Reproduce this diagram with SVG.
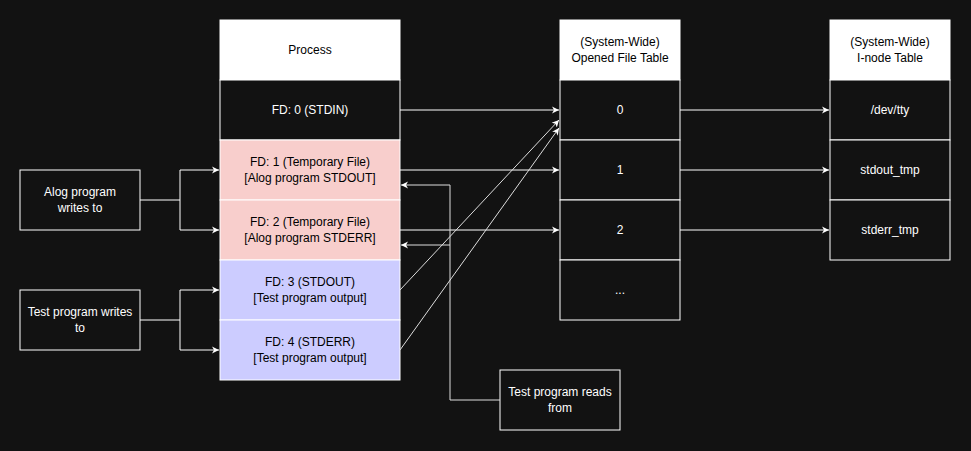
<svg xmlns="http://www.w3.org/2000/svg" width="971" height="451" viewBox="0 0 971 451">
<style>
text{font-family:"Liberation Sans",Arial,sans-serif;font-size:12px;text-anchor:middle;dominant-baseline:central}
.d{fill:#121212;stroke:#fff;stroke-width:1}
.w{fill:#fff;stroke:#fff}
.t{fill:#fff}
.k{fill:#000}
.c{fill:none;stroke:#fff;stroke-width:1}
.g{fill:none;stroke:#ddd;stroke-width:1}
</style>
<defs><marker id="a" markerWidth="8" markerHeight="8" refX="7" refY="4" orient="auto" markerUnits="userSpaceOnUse"><path d="M0,0.5 L7,4 L0,7.5 L2,4Z" fill="#fff"/></marker></defs>
<rect width="971" height="451" fill="#121212"/>
<g id="process">
<rect x="220" y="20" width="180" height="60" class="w"/><text x="310" y="50" class="k">Process</text>
<rect x="220" y="80" width="180" height="60" class="d"/><text x="310" y="110" class="t">FD: 0 (STDIN)</text>
<rect x="220" y="140" width="180" height="60" fill="#f8cecc" stroke="#fff"/><text x="310" y="162" class="k">FD: 1 (Temporary File)</text><text x="310" y="178" class="k">[Alog program STDOUT]</text>
<rect x="220" y="200" width="180" height="60" fill="#f8cecc" stroke="#fff"/><text x="310" y="222" class="k">FD: 2 (Temporary File)</text><text x="310" y="238" class="k">[Alog program STDERR]</text>
<rect x="220" y="260" width="180" height="60" fill="#ccccff" stroke="#fff"/><text x="310" y="282" class="k">FD: 3 (STDOUT)</text><text x="310" y="298" class="k">[Test program output]</text>
<rect x="220" y="320" width="180" height="60" fill="#ccccff" stroke="#fff"/><text x="310" y="342" class="k">FD: 4 (STDERR)</text><text x="310" y="358" class="k">[Test program output]</text>
</g>
<g id="oft">
<rect x="560" y="20" width="120" height="60" class="w"/><text x="620" y="42" class="k">(System-Wide)</text><text x="620" y="58" class="k">Opened File Table</text>
<rect x="560" y="80" width="120" height="60" class="d"/><text x="620" y="110" class="t">0</text>
<rect x="560" y="140" width="120" height="60" class="d"/><text x="620" y="170" class="t">1</text>
<rect x="560" y="200" width="120" height="60" class="d"/><text x="620" y="230" class="t">2</text>
<rect x="560" y="260" width="120" height="60" class="d"/><text x="620" y="290" class="t">...</text>
</g>
<g id="inode">
<rect x="830" y="20" width="120" height="60" class="w"/><text x="890" y="42" class="k">(System-Wide)</text><text x="890" y="58" class="k">I-node Table</text>
<rect x="830" y="80" width="120" height="60" class="d"/><text x="890" y="110" class="t">/dev/tty</text>
<rect x="830" y="140" width="120" height="60" class="d"/><text x="890" y="170" class="t">stdout_tmp</text>
<rect x="830" y="200" width="120" height="60" class="d"/><text x="890" y="230" class="t">stderr_tmp</text>
</g>
<g id="alog"><rect x="20" y="170" width="120" height="60" class="d"/><text x="80" y="192" class="t">Alog program</text><text x="80" y="208" class="t">writes to</text></g>
<g id="testw"><rect x="20" y="290" width="120" height="60" class="d"/><text x="80" y="312" class="t">Test program writes</text><text x="80" y="328" class="t">to</text></g>
<g id="testr"><rect x="500" y="370" width="120" height="60" class="d"/><text x="560" y="392" class="t">Test program reads</text><text x="560" y="408" class="t">from</text></g>
<g id="connectors">
<path d="M400,110H559" class="c" marker-end="url(#a)"/>
<path d="M400,170H559" class="c" marker-end="url(#a)"/>
<path d="M400,230H559" class="c" marker-end="url(#a)"/>
<path d="M680,110H829" class="c" marker-end="url(#a)"/>
<path d="M680,170H829" class="c" marker-end="url(#a)"/>
<path d="M680,230H829" class="c" marker-end="url(#a)"/>
<path d="M400,290L559,120" class="g" marker-end="url(#a)"/>
<path d="M400,350L559,128" class="g" marker-end="url(#a)"/>
<path d="M140,200H180V170H219" class="c" marker-end="url(#a)"/>
<path d="M180,200V230H219" class="c" marker-end="url(#a)"/>
<path d="M140,320H180V290H219" class="c" marker-end="url(#a)"/>
<path d="M180,320V350H219" class="c" marker-end="url(#a)"/>
<path d="M500,400H450V185H401" class="g" marker-end="url(#a)"/>
<path d="M450,245H401" class="g" marker-end="url(#a)"/>
</g>
</svg>
